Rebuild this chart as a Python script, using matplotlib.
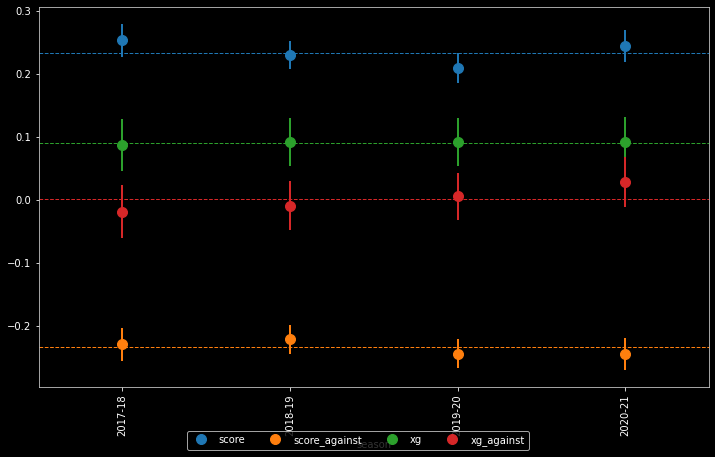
import matplotlib
matplotlib.use("Agg")
import matplotlib.pyplot as plt
from matplotlib.lines import Line2D
import numpy as np

plt.style.use("dark_background")

seasons = ["2017-18", "2018-19", "2019-20", "2020-21"]
metrics = ["score", "score_against", "xg", "xg_against"]
colors = ["#1f77b4", "#ff7f0e", "#2ca02c", "#d62728"]

# point estimates per season
score = [0.254, 0.230, 0.210, 0.245]
score_against = [-0.230, -0.222, -0.246, -0.246]
xg = [0.087, 0.092, 0.092, 0.092]
xg_against = [-0.020, -0.009, 0.006, 0.028]

# confidence interval lows / highs
score_lo = [0.228, 0.209, 0.186, 0.220]
score_hi = [0.280, 0.253, 0.234, 0.271]
score_against_lo = [-0.256, -0.245, -0.267, -0.271]
score_against_hi = [-0.204, -0.199, -0.221, -0.220]
xg_lo = [0.046, 0.054, 0.054, 0.054]
xg_hi = [0.129, 0.131, 0.131, 0.132]
xg_against_lo = [-0.061, -0.048, -0.032, -0.011]
xg_against_hi = [0.024, 0.030, 0.043, 0.068]

# overall averages (dashed lines)
means = [0.2335, -0.2346, 0.090, 0.001]

vals = [score, score_against, xg, xg_against]
los = [score_lo, score_against_lo, xg_lo, xg_against_lo]
his = [score_hi, score_against_hi, xg_hi, xg_against_hi]

fig = plt.figure(figsize=(715 / 72, 457 / 72), dpi=72)
ax = fig.add_axes([0.054, 0.153, 0.9376, 0.8317])

x = np.arange(len(seasons))
for v, lo, hi, c, m in zip(vals, los, his, colors, means):
    v = np.array(v); lo = np.array(lo); hi = np.array(hi)
    ax.axhline(m, color=c, linestyle="--", linewidth=1, zorder=1)
    ax.errorbar(x, v, yerr=[v - lo, hi - v], fmt="o", color=c, ms=10,
                elinewidth=2, capsize=0, zorder=3)

ax.set_xlim(-0.5, 3.5)
ax.set_ylim(-0.298, 0.307)
ax.set_xticks(x)
ax.set_xticklabels(seasons, rotation=90)
ax.set_yticks([-0.2, -0.1, 0.0, 0.1, 0.2, 0.3])
ax.set_xlabel("season")
for s in ax.spines.values():
    s.set_color("#cccccc")

handles = [Line2D([], [], marker="o", linestyle="none", color=c, ms=10) for c in colors]
fig.legend(handles, metrics, loc="lower center", ncol=4, bbox_to_anchor=(0.5, 0.005),
           framealpha=0.8, facecolor="black", edgecolor="#cccccc")

fig.savefig("out.png", dpi=72, facecolor="black")
